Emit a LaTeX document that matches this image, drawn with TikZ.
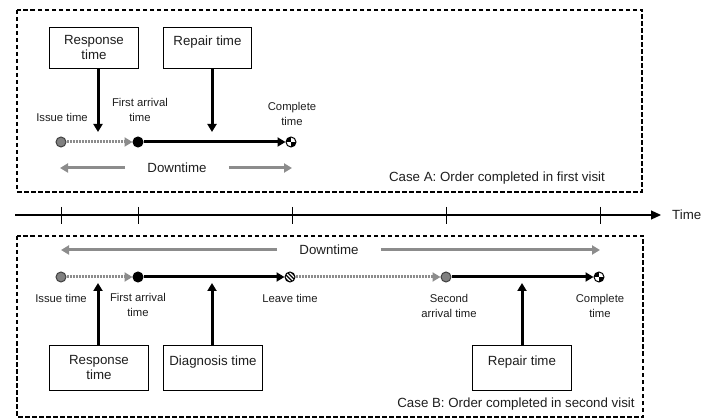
\documentclass[tikz,border=0pt]{standalone}
\usepackage{fontspec}
\setmainfont{Liberation Sans}
\usetikzlibrary{arrows.meta}
\definecolor{dtcolor0000}{RGB}{0,0,0}
\definecolor{dtcolor0001}{RGB}{140,140,140}
\definecolor{dtcolor0002}{RGB}{128,128,128}
\definecolor{dtcolor0003}{RGB}{64,64,64}
\definecolor{dtcolor0004}{RGB}{30,30,30}

\begin{document}
\begin{tikzpicture}[yscale=-1
                ,pstyle1/.style={color=dtcolor0000,line width=1.4pt,dash pattern=on 4.5pt off 2.5pt}
                ,pstyle2/.style={draw=dtcolor0000,fill=white,line width=0.9pt,align=center,text=dtcolor0004,font=\fontsize{13.3}{15}\selectfont,inner sep=0pt}
                ,pstyle3/.style={color=dtcolor0000,line width=3pt,-{Triangle[length=8pt,width=9pt]}}
                ,pstyle4/.style={color=dtcolor0001,line width=3pt,-{Triangle[length=8pt,width=9pt]}}
                ,pstyle5/.style={color=dtcolor0001,line width=3pt,dash pattern=on 2pt off 1pt,-{Triangle[length=8pt,width=9pt]}}
                ,pstyle6/.style={circle,minimum size=10pt,inner sep=0pt,line width=1pt}
                ,pstyle7/.style={align=center,text=dtcolor0004,font=\fontsize{11.3}{15}\selectfont,inner sep=0pt}
                ,pstyle8/.style={text=dtcolor0004,font=\fontsize{13.3}{15}\selectfont,inner sep=0pt}
                ,pstyle9/.style={pstyle6,draw=dtcolor0000,fill=white,path picture={
                    \fill[dtcolor0000] (path picture bounding box.center) rectangle (path picture bounding box.north west);
                    \fill[dtcolor0000] (path picture bounding box.center) rectangle (path picture bounding box.south east);}}
            ]
            \useasboundingbox (0pt,0pt) rectangle (717pt,419pt);
            % case A frame
            \draw[pstyle1] (17pt,10pt) rectangle (642pt,192pt);
            \node[pstyle8] (caseA) at (497pt,178pt) {Case A: Order completed in first visit};
            \node[pstyle2,minimum width=89pt,minimum height=41pt,anchor=north west] (respA) at (49pt,27pt) {Response\\time};
            \node[pstyle2,minimum width=88pt,minimum height=41pt,anchor=north west] (repA) at (163pt,27pt) {Repair time\\~};
            \node[pstyle6,draw=dtcolor0003,fill=dtcolor0002] (issueA) at (61pt,142pt) {};
            \node[pstyle6,draw=dtcolor0000,fill=dtcolor0000] (firstA) at (138pt,142pt) {};
            \node[pstyle9] (compA) at (291pt,142pt) {};
            \node[pstyle7] (issueAlab) at (62pt,117pt) {Issue time};
            \node[pstyle7] (firstAlab) at (140pt,109.5pt) {First arrival\\time};
            \node[pstyle7] (compAlab) at (292pt,113.5pt) {Complete\\time};
            \coordinate (respAend) at (98pt,132pt);
            \coordinate (repAend) at (212pt,132pt);
            \draw[pstyle3] (respA.south -| respAend) -- (respAend);
            \draw[pstyle3] (repA.south -| repAend) -- (repAend);
            \draw[pstyle5] (issueA) -- (firstA);
            \draw[pstyle3] (firstA) -- (compA);
            \node[pstyle8,inner xsep=22pt] (downA) at (177pt,168pt) {Downtime};
            \coordinate (downAleft) at (60pt,168pt);
            \coordinate (downAright) at (292pt,168pt);
            \draw[pstyle4] (downA) -- (downAleft);
            \draw[pstyle4] (downA) -- (downAright);
            % time axis
            \coordinate (axisstart) at (15pt,215pt);
            \coordinate (axisend) at (661pt,215pt);
            \node[pstyle8,anchor=west] (timelab) at (672pt,215pt) {Time};
            \draw[color=dtcolor0000,line width=1.2pt,-{Triangle[length=10pt,width=9pt]}] (axisstart) -- (axisend);
            \foreach \x in {61,138,292,446,600} {
                \draw[color=dtcolor0000,line width=0.9pt] (\x pt,207pt) -- (\x pt,224pt);
            }
            % case B frame
            \draw[pstyle1] (17pt,236pt) rectangle (643pt,417pt);
            \node[pstyle8] (caseB) at (516pt,404pt) {Case B: Order completed in second visit};
            \node[pstyle8,inner xsep=22pt] (downB) at (329pt,250pt) {Downtime};
            \coordinate (downBleft) at (61pt,250pt);
            \coordinate (downBright) at (600pt,250pt);
            \draw[pstyle4] (downB) -- (downBleft);
            \draw[pstyle4] (downB) -- (downBright);
            \node[pstyle6,draw=dtcolor0003,fill=dtcolor0002] (issueB) at (61pt,277pt) {};
            \node[pstyle6,draw=dtcolor0000,fill=dtcolor0000] (firstB) at (138pt,277pt) {};
            \node[pstyle6,draw=dtcolor0000,fill=white,path picture={
                \foreach \d in {-6,-2,2,6} {
                    \draw[dtcolor0000,line width=1.1pt] (path picture bounding box.center) ++(\d pt,0pt) ++(-6pt,6pt) -- ++(12pt,-12pt);
                }}] (leaveB) at (290pt,277pt) {};
            \node[pstyle6,draw=dtcolor0003,fill=dtcolor0002] (secondB) at (446pt,277pt) {};
            \node[pstyle9] (compB) at (599pt,277pt) {};
            \node[pstyle7] (issueBlab) at (61pt,298pt) {Issue time};
            \node[pstyle7] (firstBlab) at (138pt,305pt) {First arrival\\time};
            \node[pstyle7] (leaveBlab) at (290pt,298pt) {Leave time};
            \node[pstyle7] (secondBlab) at (449pt,305.5pt) {Second\\arrival time};
            \node[pstyle7] (compBlab) at (600pt,305.5pt) {Complete\\time};
            \draw[pstyle5] (issueB) -- (firstB);
            \draw[pstyle3] (firstB) -- (leaveB);
            \draw[pstyle5] (leaveB) -- (secondB);
            \draw[pstyle3] (secondB) -- (compB);
            \node[pstyle2,minimum width=99pt,minimum height=45pt,anchor=north west] (respB) at (49pt,345pt) {Response\\time};
            \node[pstyle2,minimum width=99pt,minimum height=45pt,anchor=north west] (diagB) at (163pt,345pt) {Diagnosis time\\~};
            \node[pstyle2,minimum width=99pt,minimum height=45pt,anchor=north west] (repB) at (472pt,345pt) {Repair time\\~};
            \coordinate (respBend) at (98pt,283pt);
            \coordinate (diagBend) at (212pt,283pt);
            \coordinate (repBend) at (522pt,283pt);
            \draw[pstyle3] (respB.north -| respBend) -- (respBend);
            \draw[pstyle3] (diagB.north -| diagBend) -- (diagBend);
            \draw[pstyle3] (repB.north -| repBend) -- (repBend);
        \end{tikzpicture}
\end{document}
